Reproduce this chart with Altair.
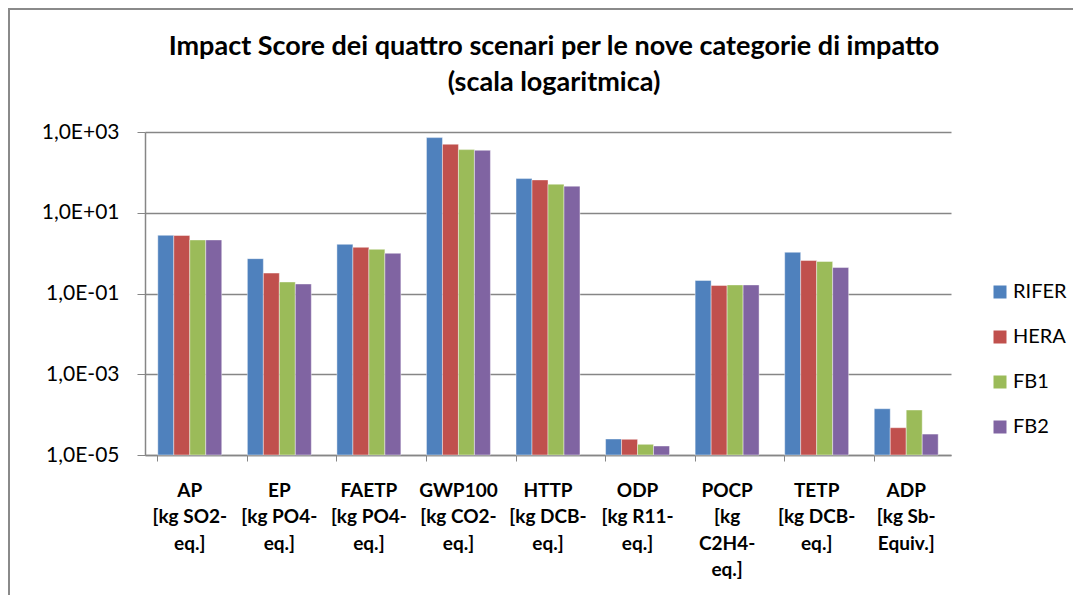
import altair as alt
import pandas as pd

categories = [
    "AP|[kg SO2-|eq.]",
    "EP|[kg PO4-|eq.]",
    "FAETP|[kg PO4-|eq.]",
    "GWP100|[kg CO2-|eq.]",
    "HTTP|[kg DCB-|eq.]",
    "ODP|[kg R11-|eq.]",
    "POCP|[kg|C2H4-|eq.]",
    "TETP|[kg DCB-|eq.]",
    "ADP|[kg Sb-|Equiv.]",
]
series = ["RIFER", "HERA", "FB1", "FB2"]
colors = ["#4F81BD", "#C0504D", "#9BBB59", "#8064A2"]

rifer = [2.76, 0.73, 1.65, 726, 70.2, 2.49e-5, 0.21, 1.05, 1.4e-4]
hera = [2.73, 0.32, 1.39, 497, 65.0, 2.45e-5, 0.158, 0.656, 4.74e-5]
fb1 = [2.12, 0.193, 1.24, 366, 50.9, 1.84e-5, 0.163, 0.62, 1.3e-4]
fb2 = [2.12, 0.172, 0.99, 352, 45.5, 1.67e-5, 0.163, 0.44, 3.3e-5]

y_ticks = [1e-5, 1e-3, 1e-1, 1e1, 1e3]

title_lines = ["Impact Score dei quattro scenari per le nove categorie di impatto", "(scala logaritmica)"]

rows = []
for s, vals in zip(series, [rifer, hera, fb1, fb2]):
    for c, v in zip(categories, vals):
        rows.append({"categoria": c, "scenario": s, "valore": v})
df = pd.DataFrame(rows)

FONT = "Lato"
W, H = 806, 323

bars = alt.Chart(df).mark_bar(stroke="white", strokeWidth=0.6, strokeOpacity=0.7).encode(
    x=alt.X(
        "categoria:N",
        sort=categories,
        title=None,
        scale=alt.Scale(paddingInner=0.286, paddingOuter=0.143),
        axis=alt.Axis(
            labelExpr="split(datum.value, '|')",
            labelAngle=0,
            labelFontSize=19,
            labelFontWeight="bold",
            labelFont=FONT,
            labelColor="#000000",
            labelLineHeight=26.5,
            labelPadding=20,
            labelBaseline="top",
            bandPosition=0,
            tickSize=6,
            tickColor="#868686",
            domainColor="#868686",
            domainWidth=1.5,
            grid=False,
        ),
    ),
    xOffset=alt.XOffset("scenario:N", sort=series, scale=alt.Scale(paddingInner=0, paddingOuter=0)),
    y=alt.Y(
        "valore:Q",
        title=None,
        stack=None,
        scale=alt.Scale(type="log", domain=[1e-5, 1e3]),
        axis=alt.Axis(
            values=y_ticks,
            labelExpr="'1,0E' + (round(log(datum.value)/LN10) < 0 ? '-' : '+') + (abs(round(log(datum.value)/LN10)) < 10 ? '0' : '') + abs(round(log(datum.value)/LN10))",
            labelFontSize=21,
            labelFont=FONT,
            labelColor="#000000",
            labelPadding=18,
            tickSize=8,
            tickColor="#868686",
            domainColor="#868686",
            domainWidth=1.5,
            gridColor="#868686",
            gridWidth=1.5,
        ),
    ),
    color=alt.Color(
        "scenario:N",
        sort=series,
        scale=alt.Scale(domain=series, range=colors),
        legend=alt.Legend(
            title=None,
            orient="none",
            legendX=845,
            legendY=150,
            symbolType="square",
            symbolSize=169,
            symbolStrokeWidth=0,
            labelFontSize=20,
            labelFont=FONT,
            labelColor="#000000",
            rowPadding=25,
            labelOffset=3,
        ),
    ),
)

frame = alt.Chart(pd.DataFrame({"k": [0]})).mark_rect(
    fill=None, stroke="#8a8a8a", strokeWidth=2
).encode(
    x=alt.value(-136), y=alt.value(-123), x2=alt.value(W + 200), y2=alt.value(H + 200)
)

title = alt.Chart(pd.DataFrame({"t": ["\n".join(title_lines)]})).mark_text(
    font=FONT, fontSize=27, fontWeight="bold", color="#000000",
    align="center", baseline="middle", lineBreak="\n", lineHeight=36,
).encode(
    text="t:N", x=alt.value(W / 2 + 6), y=alt.value(-85)
)

chart = alt.layer(frame, bars, title).properties(
    width=W,
    height=H,
    autosize=alt.AutoSizeParams(type="none"),
    padding={"left": 137, "top": 124, "right": 122, "bottom": 140},
).configure_view(stroke=None)

chart.save("out.html", embed_options={"renderer": "svg", "actions": False})
